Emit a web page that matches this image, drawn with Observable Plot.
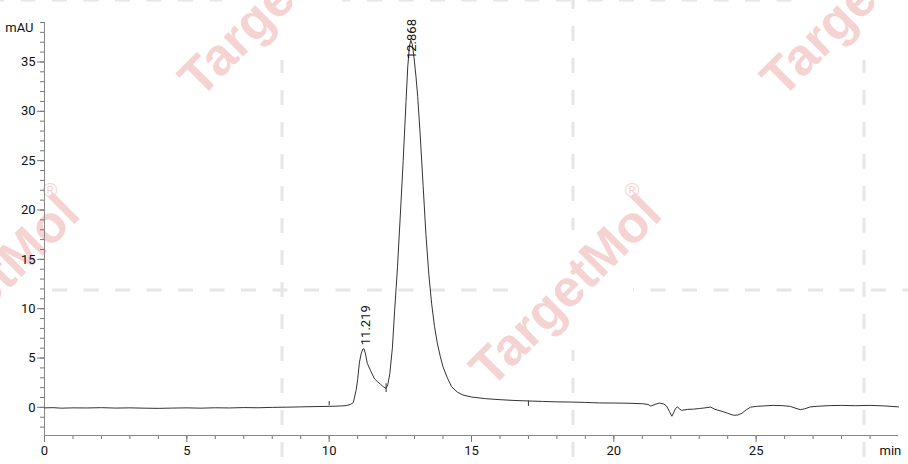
<!DOCTYPE html>
<html><head><meta charset="utf-8">
<script src="https://cdn.jsdelivr.net/npm/d3@7"></script>
<script src="https://cdn.jsdelivr.net/npm/@observablehq/plot@0.6"></script>
<style>
body{margin:0;background:#fff;}
#wrap{position:relative;width:908px;height:464px;overflow:hidden;background:#fff;}
#wm{position:absolute;left:0;top:0;}
#chart{position:absolute;left:0;top:0;}
</style></head><body>
<div id="wrap"><svg id="wm" width="908" height="464"></svg><div id="chart"></div></div>
<script>
// Retention time (min)
const times = [
  0.0,0.3,0.6,1.0,1.5,2.0,2.5,3.0,3.5,4.0,4.5,5.0,5.5,6.0,6.5,7.0,7.5,8.0,8.5,9.0,9.5,10.0,10.4,10.6,10.75,
  10.85,10.95,11.0,11.06,11.12,11.18,11.219,11.27,11.34,11.45,11.59,11.7,11.8,11.9,12.0,
  12.06,12.13,12.22,12.3,12.4,12.5,12.6,12.7,12.76,12.82,12.868,12.92,12.98,13.05,13.11,13.2,13.3,13.4,13.5,13.6,13.7,13.8,13.9,14.0,
  14.15,14.3,14.5,14.7,15.0,15.5,16.0,16.5,17.0,17.5,18.0,18.5,19.0,19.5,20.0,20.5,21.0,21.2,21.3,21.45,21.6,21.75,21.85,21.95,22.04,22.1,22.17,22.24,22.3,22.38,
  22.6,22.8,23.0,23.2,23.4,23.55,23.8,24.0,24.2,24.35,24.5,24.65,24.8,25.0,25.3,25.6,25.9,26.2,26.4,26.55,26.7,26.9,27.2,27.6,28.0,28.5,29.0,29.5,30.0
];
// Absorbance (mAU)
const signal = [
  -0.05,-0.03,-0.08,-0.05,-0.06,-0.03,-0.07,-0.05,-0.08,-0.1,-0.07,-0.05,-0.08,-0.04,-0.06,-0.02,-0.04,0.0,0.02,0.05,0.08,0.1,0.14,0.18,0.3,
  0.5,1.8,2.8,4.5,5.4,5.9,5.95,5.5,4.46,3.75,2.9,2.6,2.35,2.1,1.92,
  2.3,3.4,6.0,9.8,14.2,19.5,25.0,31.0,34.5,36.6,37.2,36.8,35.5,33.5,31.5,27.5,22.5,17.5,13.5,10.5,8.2,6.5,5.2,4.1,
  3.0,2.1,1.55,1.25,1.05,0.88,0.78,0.7,0.65,0.6,0.56,0.54,0.5,0.45,0.44,0.42,0.37,0.3,0.13,0.3,0.44,0.35,0.15,-0.4,-0.9,-0.55,-0.1,0.05,-0.15,-0.3,
  -0.2,-0.18,-0.12,-0.05,0.03,-0.2,-0.4,-0.6,-0.8,-0.78,-0.6,-0.25,0.02,0.1,0.15,0.2,0.18,0.1,-0.1,-0.23,-0.15,0.05,0.12,0.18,0.2,0.17,0.2,0.15,0.05
];
const peakTimes = [11.219, 12.868];
const peakLabels = ["11.219", "12.868"];
const peakLabelY = [6.3, 35.3];
const markerTimes = [10.0, 12.0, 17.0];
const markerY1 = [0.15, 1.5, 0.1];
const markerY2 = [0.6, 2.4, 0.65];
const xMajorTicks = [0, 5, 10, 15, 20, 25];
const xMinorTicks = d3.range(0, 30, 1);
const yMajorTicks = [0, 5, 10, 15, 20, 25, 30, 35];
const yMinorTicks = d3.range(-2, 40, 1);
const xLabel = "min";
const yLabel = "mAU";

// Watermark (decoration)
const wm = d3.select("#wm");
const dash = "#e6e6e6";
[0, 290].forEach(y => wm.append("line").attr("x1", 0).attr("x2", 908).attr("y1", y).attr("y2", y)
  .attr("stroke", dash).attr("stroke-width", 3).attr("stroke-dasharray", "15 16.5").attr("stroke-dashoffset", 11));
[282, 573, 864].forEach(x => wm.append("line").attr("x1", x).attr("x2", x).attr("y1", 0).attr("y2", 464)
  .attr("stroke", dash).attr("stroke-width", 3).attr("stroke-dasharray", "15 17").attr("stroke-dashoffset", 6));
const centers = [[282, 0], [864, 0], [573, 290], [-9, 290]];
centers.forEach(([cx, cy]) => {
  wm.append("circle").attr("cx", cx).attr("cy", cy).attr("r", 60).attr("fill", "#fff");
  const g = wm.append("g").attr("transform", `translate(${cx - 8},${cy}) rotate(-45)`);
  g.append("text").attr("text-anchor", "middle").attr("dominant-baseline", "central")
    .attr("font-family", "Liberation Sans, Arial, sans-serif").attr("font-weight", "bold").attr("font-size", 52)
    .attr("fill", "#f6d3d3").text("TargetMol");
  wm.append("text").attr("x", cx + 59).attr("y", cy - 100).attr("text-anchor", "middle").attr("dominant-baseline", "central")
    .attr("font-family", "Liberation Sans, Arial, sans-serif").attr("font-size", 20).attr("fill", "#f6d3d3").text("®");
});

const data = times.map((t, i) => ({t, v: signal[i]}));
const yMin = -2.85, yMax = 39;
const chart = Plot.plot({
  width: 908, height: 464,
  marginLeft: 44, marginRight: 10, marginTop: 22, marginBottom: 29,
  style: {background: "transparent", fontFamily: "Roboto, sans-serif", fontSize: "13px", color: "#111"},
  x: {domain: [0, 30], label: null},
  y: {domain: [yMin, yMax], label: null},
  marks: [
    Plot.axisX(xMinorTicks, {tickSize: 4, tickFormat: () => "", stroke: "#777", label: null}),
    Plot.axisX(xMajorTicks, {tickSize: 7, tickPadding: 3, stroke: "#777", fill: "#111", fontSize: 13, label: null}),
    Plot.axisY(yMinorTicks, {tickSize: 4, tickFormat: () => "", stroke: "#777", label: null}),
    Plot.axisY(yMajorTicks, {tickSize: 7, tickPadding: 2, stroke: "#777", fill: "#111", fontSize: 13, label: null}),
    Plot.ruleX([0], {stroke: "#888"}),
    Plot.ruleY([yMin], {stroke: "#888"}),
    Plot.line(data, {x: "t", y: "v", stroke: "#333", strokeWidth: 1}),
    Plot.ruleX(markerTimes, {x: d => d, y1: (d, i) => markerY1[i], y2: (d, i) => markerY2[i], stroke: "#333", strokeWidth: 1}),
    Plot.text(peakTimes, {x: d => d, y: (d, i) => peakLabelY[i], text: (d, i) => peakLabels[i], rotate: -90,
      textAnchor: "start", lineAnchor: "middle", fontSize: 13, fill: "#111", dx: 1.5}),
    Plot.text([yLabel], {frameAnchor: "top-left", text: d => d, textAnchor: "end", lineAnchor: "middle", dx: -11, dy: 5.5, fontSize: 13, fill: "#111"}),
    Plot.text([xLabel], {frameAnchor: "bottom-right", text: d => d, textAnchor: "start", lineAnchor: "middle", dx: -19, dy: 15, fontSize: 13, fill: "#111"})
  ]
});
document.getElementById("chart").appendChild(chart);
</script>
</body></html>
